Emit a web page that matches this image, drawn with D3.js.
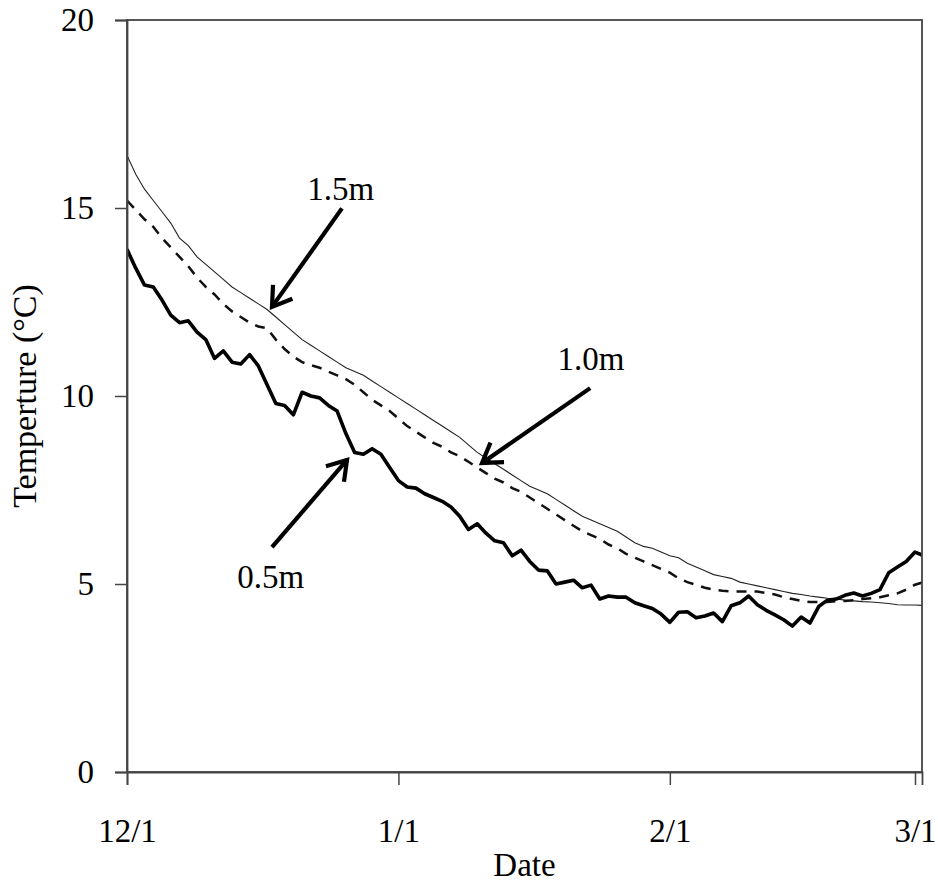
<!DOCTYPE html>
<html>
<head>
<meta charset="utf-8">
<script src="https://cdn.jsdelivr.net/npm/d3@7"></script>
<style>
	body { margin: 0; background: #fff; }
	text { font-family: "Liberation Serif", "Times New Roman", serif; fill: #000; }
</style>
</head>
<body>
<svg id="chart"></svg>
<script>
// days since 12/1, one reading per day
const days = d3.range(0, 92);

// 1.5m depth (thin solid)
const t15 = [16.4, 15.9, 15.5, 15.2, 14.9, 14.6, 14.2, 14.0, 13.7, 13.5,
	13.3, 13.1, 12.9, 12.75, 12.6, 12.45, 12.3, 12.1, 11.9, 11.7,
	11.5, 11.35, 11.2, 11.05, 10.9, 10.75, 10.65, 10.55, 10.4, 10.25,
	10.1, 9.95, 9.8, 9.65, 9.5, 9.35, 9.2, 9.05, 8.9, 8.7,
	8.5, 8.35, 8.2, 8.05, 7.9, 7.75, 7.6, 7.5, 7.4, 7.25,
	7.1, 6.95, 6.8, 6.7, 6.6, 6.5, 6.4, 6.25, 6.1, 6.0,
	5.95, 5.85, 5.75, 5.7, 5.55, 5.45, 5.35, 5.25, 5.2, 5.15,
	5.05, 5.0, 4.95, 4.9, 4.85, 4.8, 4.75, 4.72, 4.68, 4.65,
	4.62, 4.6, 4.57, 4.55, 4.53, 4.52, 4.5, 4.48, 4.45, 4.44,
	4.44, 4.43];

// 1.0m depth (dashed)
const t10 = [15.2, 14.95, 14.7, 14.5, 14.2, 13.95, 13.7, 13.45, 13.15, 12.9,
	12.7, 12.45, 12.25, 12.1, 11.95, 11.85, 11.8, 11.5, 11.25, 11.05,
	10.9, 10.82, 10.75, 10.65, 10.55, 10.45, 10.3, 10.1, 9.9, 9.75,
	9.6, 9.4, 9.2, 9.05, 8.9, 8.75, 8.65, 8.5, 8.4, 8.25,
	8.1, 7.95, 7.8, 7.7, 7.55, 7.45, 7.3, 7.15, 7.0, 6.85,
	6.7, 6.55, 6.4, 6.3, 6.2, 6.05, 5.95, 5.8, 5.7, 5.6,
	5.5, 5.4, 5.3, 5.15, 5.05, 4.98, 4.9, 4.85, 4.82, 4.8,
	4.8, 4.8, 4.8, 4.76, 4.72, 4.65, 4.6, 4.55, 4.52, 4.52,
	4.52, 4.54, 4.55, 4.57, 4.6, 4.62, 4.65, 4.7, 4.75, 4.85,
	4.98, 5.05];

// 0.5m depth (thick solid)
const t05 = [13.9, 13.4, 12.95, 12.9, 12.55, 12.15, 11.95, 12.0, 11.7, 11.5,
	11.0, 11.2, 10.9, 10.85, 11.1, 10.8, 10.3, 9.8, 9.75, 9.5,
	10.1, 10.0, 9.95, 9.75, 9.6, 9.0, 8.5, 8.45, 8.6, 8.45,
	8.1, 7.75, 7.58, 7.55, 7.4, 7.3, 7.2, 7.05, 6.8, 6.45,
	6.6, 6.35, 6.15, 6.1, 5.75, 5.9, 5.6, 5.37, 5.35, 5.0,
	5.05, 5.1, 4.9, 4.97, 4.6, 4.68, 4.65, 4.65, 4.5, 4.42,
	4.35, 4.2, 3.98, 4.25, 4.26, 4.1, 4.15, 4.23, 4.0, 4.42,
	4.5, 4.68, 4.45, 4.3, 4.18, 4.05, 3.88, 4.12, 3.96, 4.4,
	4.57, 4.6, 4.7, 4.76, 4.68, 4.75, 4.85, 5.3, 5.45, 5.6,
	5.85, 5.75];

// axis ticks
const xTickDays = [0, 31, 62, 90];
const xTickLabels = ["12/1", "1/1", "2/1", "3/1"];
const yTicks = [0, 5, 10, 15, 20];

// annotation labels: text, label pos, arrow tail, arrow tip (day, temp)
const labelText = ["1.5m", "1.0m", "0.5m"];
const labelPos = [[24.4, 15.2], [53.0, 10.7], [16.4, 4.9]];
const arrowTail = [[24.55, 14.99], [52.9, 10.21], [16.56, 5.98]];
const arrowTip = [[16.56, 12.37], [40.55, 8.22], [25.13, 8.30]];

document.addEventListener("DOMContentLoaded", function () {
	const w = 938;
	const h = 884;
	const svg = d3.select("#chart").attr("width", w).attr("height", h);

	const left = 127, right = 922, top = 20, bottom = 772;

	const xScale = d3.scaleLinear().domain([0, 90.8]).range([left, right]);
	const yScale = d3.scaleLinear().domain([0, 20]).range([bottom, top]);

	svg.append("clipPath").attr("id", "plot-clip")
		.append("rect")
		.attr("x", left).attr("y", top)
		.attr("width", right - left).attr("height", bottom - top);

	// series lines
	const line = (vals) => d3.line()
		.x((d) => xScale(d))
		.y((d, i) => yScale(vals[i]))(days);

	const g = svg.append("g").attr("clip-path", "url(#plot-clip)");
	g.append("path").attr("d", line(t15))
		.attr("fill", "none").attr("stroke", "#222").attr("stroke-width", 1.1);
	g.append("path").attr("d", line(t10))
		.attr("fill", "none").attr("stroke", "#111").attr("stroke-width", 2.5)
		.attr("stroke-dasharray", "10,8");
	g.append("path").attr("d", line(t05))
		.attr("fill", "none").attr("stroke", "#000").attr("stroke-width", 3.6)
		.attr("stroke-linejoin", "round");

	// frame
	svg.append("rect")
		.attr("x", left).attr("y", top)
		.attr("width", right - left).attr("height", bottom - top)
		.attr("fill", "none").attr("stroke", "#444").attr("stroke-width", 1.8);

	// axes
	const xAxis = d3.axisBottom(xScale)
		.tickValues(xTickDays)
		.tickFormat((d, i) => xTickLabels[i])
		.tickSize(13).tickPadding(34);
	const yAxis = d3.axisLeft(yScale)
		.tickValues(yTicks)
		.tickSize(12).tickPadding(21);

	const gx = svg.append("g")
		.attr("transform", "translate(0, " + bottom + ")")
		.call(xAxis);
	const gy = svg.append("g")
		.attr("transform", "translate(" + left + ", 0)")
		.call(yAxis);

	[gx, gy].forEach((a) => {
		a.select(".domain").attr("stroke", "#444").attr("stroke-width", 1.8);
		a.selectAll(".tick line").attr("stroke", "#444").attr("stroke-width", 1.5);
		a.selectAll(".tick text")
			.attr("font-family", "Liberation Serif, serif")
			.attr("font-size", 33).attr("fill", "#000");
	});

	// axis titles
	svg.append("text")
		.attr("x", (left + right) / 2).attr("y", 876)
		.attr("text-anchor", "middle").attr("font-size", 33)
		.text("Date");
	svg.append("text")
		.attr("transform", "translate(36, " + (top + bottom) / 2 + ") rotate(-90)")
		.attr("text-anchor", "middle").attr("font-size", 34)
		.text("Temperture (°C)");

	// annotations
	labelText.forEach((t, i) => {
		svg.append("text")
			.attr("x", xScale(labelPos[i][0]))
			.attr("y", yScale(labelPos[i][1]))
			.attr("text-anchor", "middle").attr("font-size", 33)
			.text(t);

		const x1 = xScale(arrowTail[i][0]), y1 = yScale(arrowTail[i][1]);
		const x2 = xScale(arrowTip[i][0]), y2 = yScale(arrowTip[i][1]);
		const ang = Math.atan2(y2 - y1, x2 - x1);
		const len = 22, spread = Math.PI / 5.5;
		svg.append("line")
			.attr("x1", x1).attr("y1", y1).attr("x2", x2).attr("y2", y2)
			.attr("stroke", "#000").attr("stroke-width", 4.2);
		svg.append("path")
			.attr("d", "M" + (x2 - len * Math.cos(ang - spread)) + "," + (y2 - len * Math.sin(ang - spread)) +
				"L" + x2 + "," + y2 +
				"L" + (x2 - len * Math.cos(ang + spread)) + "," + (y2 - len * Math.sin(ang + spread)))
			.attr("fill", "none").attr("stroke", "#000").attr("stroke-width", 4.2)
			.attr("stroke-linejoin", "miter");
	});
});
</script>
</body>
</html>
